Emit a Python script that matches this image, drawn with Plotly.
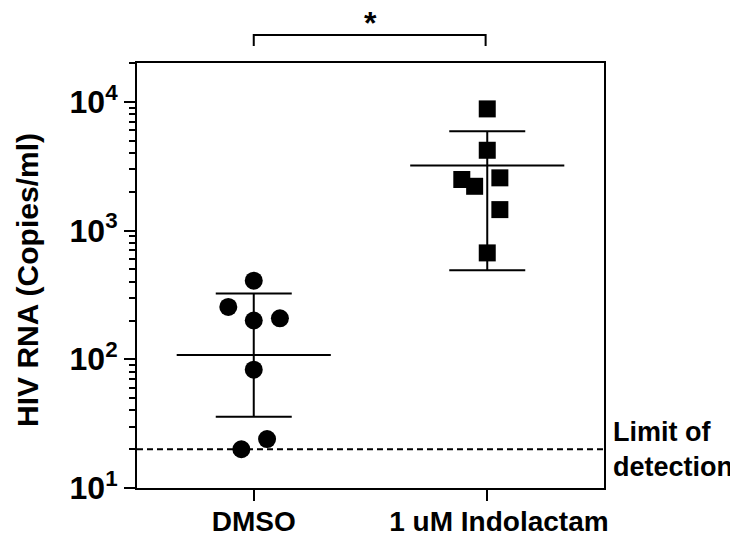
import plotly.graph_objects as go
import math

# ---- data ----
categories = ["DMSO", "&nbsp;&nbsp;&nbsp;1 uM Indolactam"]
dmso_values = [408, 255, 200, 208, 83, 24, 20]
dmso_jitter = [0.0, -0.109, 0.0, 0.112, 0.0, 0.057, -0.053]
indo_values = [8800, 4200, 2490, 2205, 2565, 1453, 670]
indo_jitter = [0.0, 0.0, -0.109, -0.054, 0.054, 0.054, 0.0]
means = [108, 3200]
sd_upper = [324, 5900]
sd_lower = [35.8, 491]
limit_of_detection = 20
ytick_vals = [10, 100, 1000, 10000]
ytick_text = ["10<sup>1</sup>", "10<sup>2</sup>", "10<sup>3</sup>", "10<sup>4</sup>"]

FONT = "Liberation Sans"
fig = go.Figure()

groups = [(0, dmso_values, dmso_jitter, "circle"), (1, indo_values, indo_jitter, "square")]
for i, vals, jit, sym in groups:
    fig.add_trace(go.Scatter(
        x=[i + j for j in jit], y=vals, mode="markers",
        marker=dict(symbol=sym, size=18 if sym == "circle" else 17, color="black",
                    line=dict(width=0)),
        showlegend=False, hoverinfo="y"))
    # mean line
    fig.add_trace(go.Scatter(
        x=[i - 0.33, i + 0.33], y=[means[i], means[i]], mode="lines",
        line=dict(color="black", width=2), showlegend=False, hoverinfo="skip"))
    # SD error bar
    fig.add_trace(go.Scatter(
        x=[i], y=[means[i]], mode="markers", marker=dict(size=1, color="rgba(0,0,0,0)"),
        error_y=dict(type="data", symmetric=False,
                     array=[sd_upper[i] - means[i]], arrayminus=[means[i] - sd_lower[i]],
                     color="black", thickness=2, width=38),
        showlegend=False, hoverinfo="skip"))

# limit of detection dashed line
fig.add_shape(type="line", xref="paper", yref="y", x0=0, x1=1,
              y0=limit_of_detection, y1=limit_of_detection,
              line=dict(color="black", width=2, dash="6px,4px"))
fig.add_annotation(text="Limit of<br>detection", xref="paper", yref="y",
                   x=1.015, y=math.log10(limit_of_detection), xanchor="left", yanchor="middle",
                   align="left", showarrow=False,
                   font=dict(family=FONT, size=27, color="black", weight="bold"))

# significance bracket
fig.add_shape(type="path", xref="x", yref="paper",
              path="M 0,1.04 L 0,1.066 L 0.993,1.066 L 0.993,1.04",
              line=dict(color="black", width=2))
fig.add_annotation(text="*", xref="x", yref="paper", x=0.5, y=1.046,
                   xanchor="center", yanchor="bottom", showarrow=False,
                   font=dict(family=FONT, size=32, color="black", weight="bold"))

# y title
fig.add_annotation(text="HIV RNA (Copies/ml)", xref="paper", yref="paper",
                   x=-0.233, y=0.49, xanchor="center", yanchor="middle", textangle=-90,
                   showarrow=False,
                   font=dict(family=FONT, size=30, color="black", weight="bold"))

minor_vals = [m * 10 ** e for e in range(1, 5) for m in range(2, 10) if m * 10 ** e <= 20000]

fig.update_xaxes(range=[-0.5, 1.5], tickmode="array", tickvals=[0, 1], ticktext=categories,
                 showline=True, linecolor="black", linewidth=2, mirror=True,
                 ticks="outside", ticklen=11, tickwidth=2, tickcolor="black",
                 ticklabelstandoff=-4, automargin=False,
                 showgrid=False, zeroline=False,
                 tickfont=dict(family=FONT, size=28, color="black", weight="bold"))
fig.update_yaxes(type="log", range=[1, math.log10(20000)], tickmode="array",
                 tickvals=ytick_vals, ticktext=ytick_text,
                 showline=True, linecolor="black", linewidth=2, mirror=True,
                 ticks="outside", ticklen=11, tickwidth=2, tickcolor="black",
                 minor=dict(tickmode="array", tickvals=minor_vals, ticks="outside",
                            ticklen=6, tickwidth=2, tickcolor="black", showgrid=False),
                 showgrid=False, zeroline=False, automargin=False,
                 tickfont=dict(family=FONT, size=32, color="black", weight="bold"))

fig.update_layout(width=738, height=537, margin=dict(l=129, r=142, t=55, b=57),
                  paper_bgcolor="white", plot_bgcolor="white")

fig.write_html("out.html")
